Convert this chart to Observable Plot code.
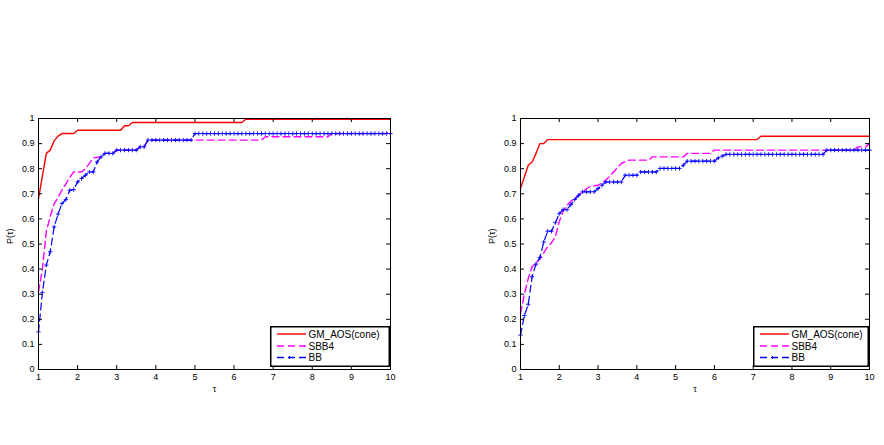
<!DOCTYPE html>
<html><head><meta charset="utf-8">
<script src="https://cdn.jsdelivr.net/npm/d3@7"></script>
<script src="https://cdn.jsdelivr.net/npm/@observablehq/plot@0.6"></script>
<style>
html,body{margin:0;padding:0;background:#fff;}
#wrap{position:relative;width:884px;height:445px;overflow:hidden;font-family:"Liberation Sans",Arial,sans-serif;}
#wrap > svg{position:absolute;top:0;}
.legend{position:absolute;}
</style></head><body><div id="wrap"></div>
<script>
// ---- tick labels / names ----
const xTicks = [1,2,3,4,5,6,7,8,9,10];
const yTicks = [0,0.1,0.2,0.3,0.4,0.5,0.6,0.7,0.8,0.9,1];
const yTickLabels = ["0","0.1","0.2","0.3","0.4","0.5","0.6","0.7","0.8","0.9","1"];
const seriesNames = ["GM_AOS(cone)","SBB4","BB"];
const xLabel = "τ";
const yLabel = "P(τ)";

// ---- left panel: [tau, P] vertices ----
const gmLeft = [[1.0,0.681],[1.2,0.861],[1.3,0.874],[1.4,0.911],[1.5,0.930],[1.6,0.940],[1.9,0.940],[2.0,0.953],
  [3.1,0.953],[3.2,0.971],[3.3,0.971],[3.4,0.984],[6.2,0.984],[6.3,0.997],[10,0.997]];
const sbbLeft = [[1.0,0.309],[1.1,0.400],[1.2,0.550],[1.3,0.610],[1.4,0.660],[1.5,0.685],[1.6,0.715],[1.7,0.740],
  [1.8,0.765],[1.9,0.787],[2.1,0.787],[2.2,0.800],[2.3,0.821],[2.4,0.843],[2.6,0.847],[2.7,0.861],[2.9,0.861],
  [3.0,0.874],[3.5,0.874],[3.6,0.887],[3.7,0.887],[3.8,0.914],[6.7,0.914],[6.8,0.927],[8.4,0.927],[8.5,0.940],
  [9.9,0.940],[10,0.953]];
// BB sampled on tau = 1.0, 1.1, ..., 10.0
const bbLeft = [
  0.150,0.307,0.416,0.469,0.568,0.619,0.661,0.677,0.714,0.717,
  0.747,0.761,0.774,0.787,0.787,0.827,0.847,0.861,0.861,0.861,
  0.874,0.874,0.874,0.874,0.874,0.874,0.887,0.887,0.914,0.914,
  0.914,0.914,0.914,0.914,0.914,0.914,0.914,0.914,0.914,0.914,
  0.940,0.940,0.940,0.940,0.940,0.940,0.940,0.940,0.940,0.940,
  0.940,0.940,0.940,0.940,0.940,0.940,0.940,0.940,0.940,0.940,
  0.940,0.940,0.940,0.940,0.940,0.940,0.940,0.940,0.940,0.940,
  0.940,0.940,0.940,0.940,0.940,0.940,0.940,0.940,0.940,0.940,
  0.940,0.940,0.940,0.940,0.940,0.940,0.940,0.940,0.940,0.940,
  0.940];

// ---- right panel ----
const gmRight = [[1.0,0.721],[1.1,0.767],[1.2,0.814],[1.3,0.827],[1.4,0.861],[1.5,0.900],[1.6,0.900],[1.7,0.916],
  [7.1,0.916],[7.2,0.929],[10,0.929]];
const sbbRight = [[1.0,0.223],[1.1,0.300],[1.2,0.363],[1.3,0.409],[1.4,0.425],[1.5,0.440],[1.6,0.465],[1.7,0.490],
  [1.8,0.505],[1.9,0.530],[2.0,0.590],[2.1,0.630],[2.2,0.655],[2.3,0.670],[2.5,0.695],[2.7,0.720],[2.8,0.730],
  [3.0,0.734],[3.2,0.754],[3.4,0.787],[3.6,0.821],[3.8,0.834],[4.3,0.834],[4.4,0.847],[5.2,0.847],[5.3,0.861],
  [5.9,0.861],[6.0,0.874],[9.6,0.874],[9.7,0.887],[9.9,0.887],[10,0.900]];
const bbRight = [
  0.137,0.215,0.260,0.370,0.420,0.446,0.508,0.551,0.551,0.585,
  0.621,0.637,0.637,0.657,0.677,0.694,0.708,0.708,0.708,0.708,
  0.721,0.734,0.747,0.747,0.747,0.747,0.747,0.774,0.774,0.774,
  0.774,0.787,0.787,0.787,0.787,0.787,0.801,0.801,0.801,0.801,
  0.801,0.801,0.814,0.830,0.830,0.830,0.830,0.830,0.830,0.830,
  0.830,0.843,0.850,0.857,0.857,0.857,0.857,0.857,0.857,0.857,
  0.857,0.857,0.857,0.857,0.857,0.857,0.857,0.857,0.857,0.857,
  0.857,0.857,0.857,0.857,0.857,0.857,0.857,0.857,0.857,0.874,
  0.874,0.874,0.874,0.874,0.874,0.874,0.874,0.874,0.874,0.874,
  0.874];

const tauGrid = bbLeft.map((_, i) => 1 + i / 10);

const RED = "#ff0000", MAG = "#ff00ff", BLUE = "#0000ff";
const FONT = "'Liberation Sans', Arial, Helvetica, sans-serif";
const W = 442, H = 445, MT = 118, MB = 76, TICK = 4;

function panel(gm, sbb, bb, mL, mR) {
  const innerW = W - mL - mR, innerH = H - MT - MB;
  const bbData = tauGrid.map((t, i) => ({t, p: bb[i]}));
  return Plot.plot({
    width: W, height: H, marginLeft: mL, marginRight: mR, marginTop: MT, marginBottom: MB,
    x: {domain: [1, 10], label: null},
    y: {domain: [0, 1], label: null},
    style: {fontFamily: FONT, fontSize: "9px", color: "#000", background: "transparent", overflow: "visible"},
    marks: [
      Plot.line(sbb, {x: d => d[0], y: d => d[1], stroke: MAG, strokeWidth: 1.4, strokeDasharray: "7,4"}),
      Plot.line(bbData, {x: "t", y: "p", stroke: BLUE, strokeWidth: 1.2, strokeDasharray: "7,4"}),
      Plot.dot(bbData, {x: "t", y: "p", symbol: "plus", r: 1.5, stroke: BLUE, strokeWidth: 0.9}),
      Plot.line(gm, {x: d => d[0], y: d => d[1], stroke: RED, strokeWidth: 1.4}),
      Plot.frame({stroke: "#000", strokeWidth: 1}),
      Plot.tickX(xTicks, {x: d => d, insetTop: innerH - TICK, stroke: "#000"}),
      Plot.tickX(xTicks, {x: d => d, insetBottom: innerH - TICK, stroke: "#000"}),
      Plot.tickY(yTicks, {y: d => d, insetRight: innerW - TICK, stroke: "#000"}),
      Plot.tickY(yTicks, {y: d => d, insetLeft: innerW - TICK, stroke: "#000"}),
      Plot.axisX(xTicks, {tickSize: 0, tickPadding: 4, label: null, fontSize: 9}),
      Plot.axisY(yTicks, {tickSize: 0, tickPadding: 4, label: null, fontSize: 9,
        tickFormat: d => yTickLabels[yTicks.indexOf(d)]}),
      Plot.text([xLabel], {frameAnchor: "bottom", dy: 22, fontSize: 9}),
      Plot.text([yLabel], {frameAnchor: "left", dx: -28, rotate: -90, fontSize: 9})
    ]
  });
}

function legend(left, width) {
  const rows = [
    {name: seriesNames[0], color: RED, dash: null, marker: false, y: 8},
    {name: seriesNames[1], color: MAG, dash: "7,4", marker: false, y: 20},
    {name: seriesNames[2], color: BLUE, dash: "7,4", marker: true, y: 31.5}
  ];
  let s = `<svg class="legend" style="left:${left}px;top:326px" width="${width}" height="41" xmlns="http://www.w3.org/2000/svg">`;
  s += `<rect x="0.75" y="0.75" width="${width - 1.5}" height="39.5" fill="#fff" stroke="#000" stroke-width="1.5"/>`;
  for (const r of rows) {
    s += `<line x1="7" x2="36" y1="${r.y}" y2="${r.y}" stroke="${r.color}" stroke-width="1.4" ${r.dash ? `stroke-dasharray="${r.dash}"` : ""}/>`;
    if (r.marker) s += `<path d="M19.5,${r.y - 1.5}V${r.y + 1.5}M18,${r.y}H21" stroke="${r.color}" stroke-width="1"/>`;
    s += `<text x="38.5" y="${r.y + 3.5}" font-family="${FONT}" font-size="10" fill="#000">${r.name}</text>`;
  }
  s += `</svg>`;
  return s;
}

const wrap = document.getElementById("wrap");
const p1 = panel(gmLeft, sbbLeft, bbLeft, 38, W - 390);
p1.style.left = "0px";
const p2 = panel(gmRight, sbbRight, bbRight, 520 - 442, 884 - 869);
p2.style.left = "442px";
wrap.appendChild(p1);
wrap.appendChild(p2);
wrap.insertAdjacentHTML("beforeend", legend(270, 120));
wrap.insertAdjacentHTML("beforeend", legend(753, 116));
</script></body></html>
